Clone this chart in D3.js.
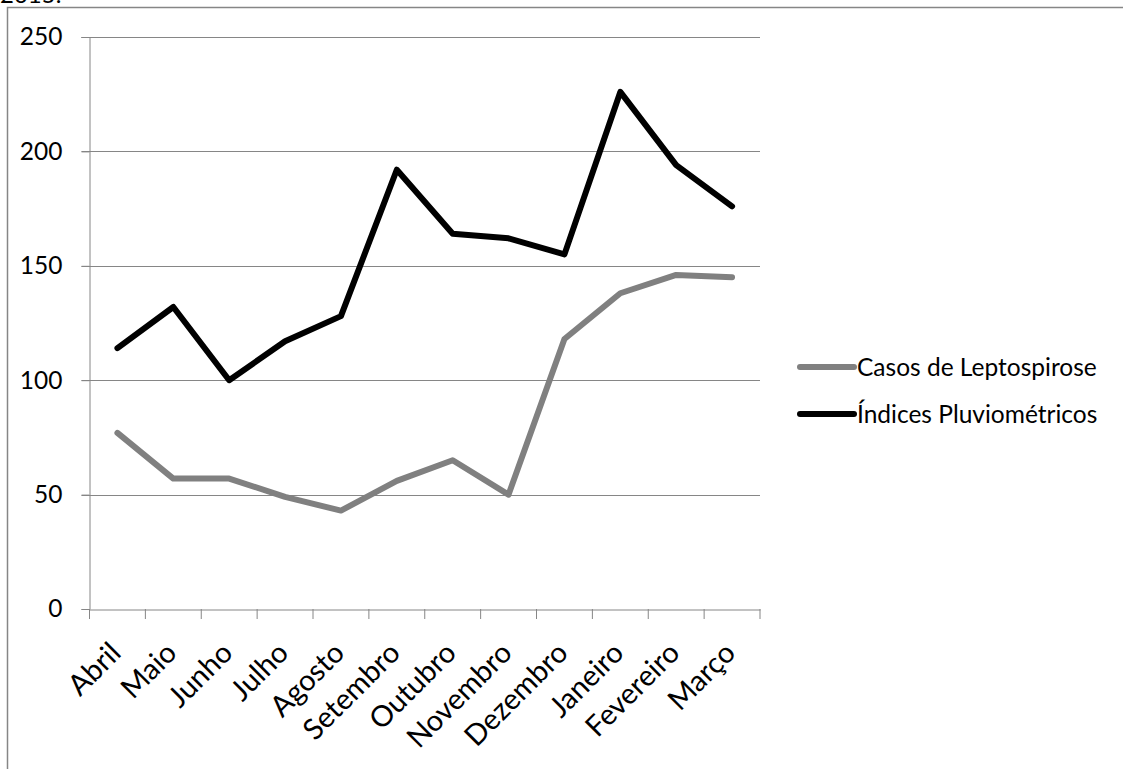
<!DOCTYPE html>
<html>
<head>
<meta charset="utf-8">
<script src="https://cdn.jsdelivr.net/npm/d3@7"></script>
<style>
  html, body { margin: 0; padding: 0; background: #fff; }
  svg { display: block; font-family: Lato, "Open Sans", sans-serif; }
</style>
</head>
<body>
<svg id="chart" width="1123" height="769"></svg>
<script>
const months = ["Abril","Maio","Junho","Julho","Agosto","Setembro","Outubro","Novembro","Dezembro","Janeiro","Fevereiro","Março"];
const leptospirose = [77, 57, 57, 49, 43, 56, 65, 50, 118, 138, 146, 145];
const pluviometricos = [114, 132, 100, 117, 128, 192, 164, 162, 155, 226, 194, 176];
const yTicks = [0, 50, 100, 150, 200, 250];
const seriesNames = ["Casos de Leptospirose", "Índices Pluviométricos"];
const seriesColors = ["#808080", "#000000"];

const svg = d3.select("#chart");

// partial title at top (cut off in the original)
svg.append("text").attr("x", 0).attr("y", 3).attr("font-size", 24).attr("fill", "#000").text("2015.");

// chart area border
svg.append("path")
  .attr("d", "M7.5,769 L7.5,7.5 L1123,7.5")
  .attr("fill", "none").attr("stroke", "#868686").attr("stroke-width", 1.5);

const pLeft = 89.5, pRight = 760, pTop = 37, pBottom = 609;
const x = d3.scaleBand().domain(months).range([pLeft, pRight]);
const y = d3.scaleLinear().domain([0, 250]).range([pBottom, pTop]);

// gridlines
svg.append("g").selectAll("line").data(yTicks.filter(d => d > 0)).join("line")
  .attr("x1", pLeft - 8).attr("x2", pRight)
  .attr("y1", d => Math.round(y(d)) + 0.5).attr("y2", d => Math.round(y(d)) + 0.5)
  .attr("stroke", "#868686").attr("stroke-width", 1);

// y axis
const yAxis = svg.append("g").attr("transform", `translate(${pLeft},0)`)
  .call(d3.axisLeft(y).tickValues(yTicks).tickSize(8).tickPadding(19));
yAxis.select(".domain").attr("stroke", "#868686");
yAxis.selectAll(".tick line").attr("stroke", "#868686");
yAxis.selectAll("text").attr("font-size", 24.5).attr("fill", "#000").attr("font-family", "Lato");

// x axis
const xAxis = svg.append("g").attr("transform", `translate(0,${pBottom + 0.5})`)
  .call(d3.axisBottom(x).tickSize(0).tickSizeOuter(0));
xAxis.select(".domain").attr("stroke", "#868686");
xAxis.selectAll(".tick line").remove();
// category boundary ticks
const bounds = months.map(m => x(m)).concat([pRight]);
svg.append("g").selectAll("line").data(bounds).join("line")
  .attr("x1", d => d).attr("x2", d => d)
  .attr("y1", pBottom).attr("y2", pBottom + 10)
  .attr("stroke", "#868686").attr("stroke-width", 1);
xAxis.selectAll("text")
  .attr("font-size", 29).attr("fill", "#000").attr("font-family", "Lato")
  .attr("text-anchor", "end")
  .attr("dy", "0.35em")
  .attr("transform", "translate(-2,38) rotate(-45)")
  .attr("y", 0).attr("x", 0);

// lines
const line = d3.line().x((d, i) => x(months[i]) + x.bandwidth() / 2).y(d => y(d));
[leptospirose, pluviometricos].forEach((s, k) => {
  svg.append("path").datum(s)
    .attr("d", line)
    .attr("fill", "none")
    .attr("stroke", seriesColors[k])
    .attr("stroke-width", 6)
    .attr("stroke-linejoin", "round")
    .attr("stroke-linecap", "round");
});

// legend
const legY = [367, 414];
seriesNames.forEach((n, k) => {
  svg.append("line").attr("x1", 800).attr("x2", 854).attr("y1", legY[k]).attr("y2", legY[k])
    .attr("stroke", seriesColors[k]).attr("stroke-width", 6).attr("stroke-linecap", "round");
  svg.append("text").attr("x", 857).attr("y", legY[k]).attr("dy", "0.35em")
    .attr("font-size", 24.5).attr("font-family", "Lato").attr("fill", "#000").text(n);
});
</script>
</body>
</html>
